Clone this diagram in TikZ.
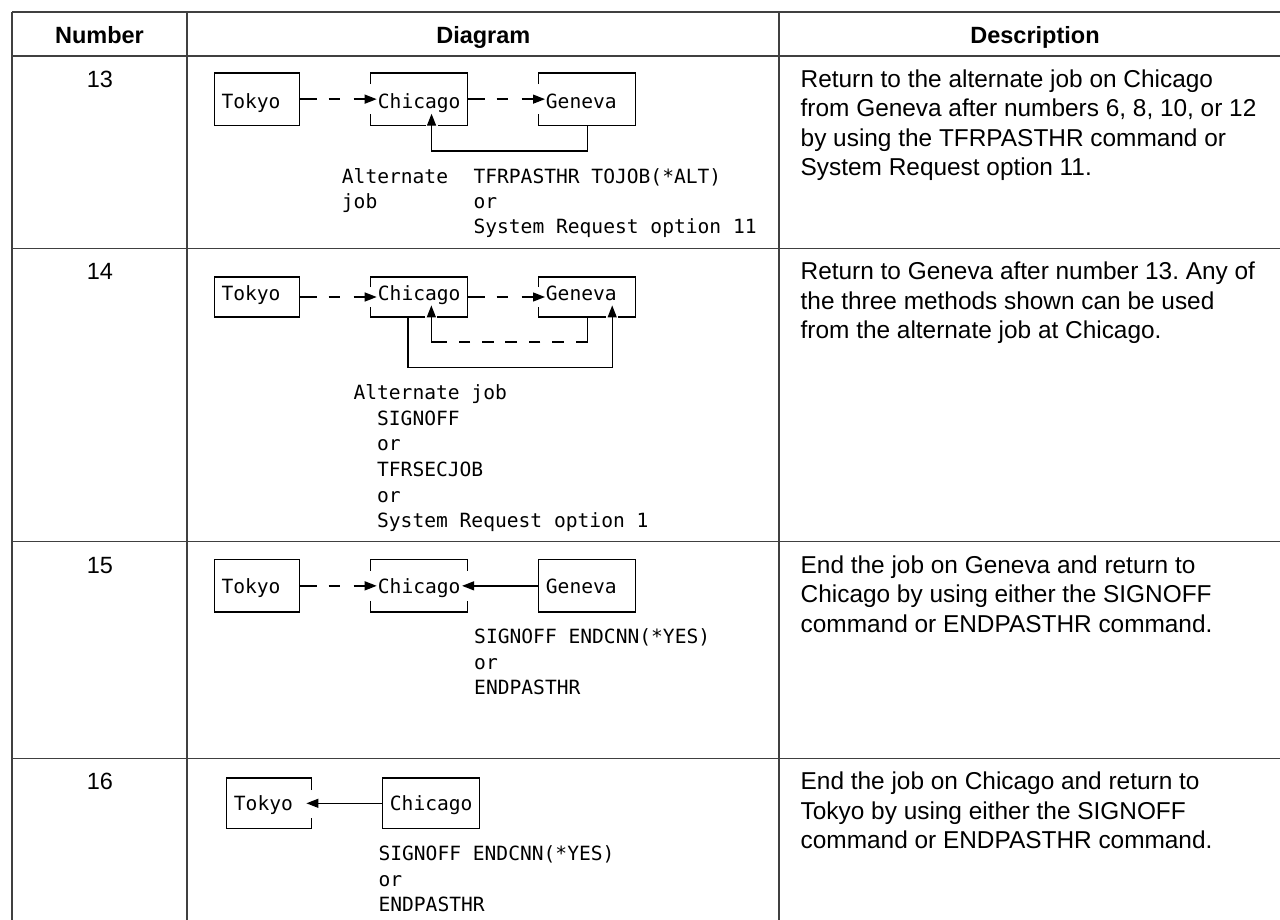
\documentclass[tikz,border=0pt]{standalone}
\usepackage{fontspec}
\setmainfont{Liberation Sans}
\newfontfamily\monof{DejaVu Sans Mono}
\usetikzlibrary{arrows.meta}
\frenchspacing
\newcommand\lns[2]{\vtop{\baselineskip=#1\lineskip=0pt\lineskiplimit=-100pt #2}}
\tikzset{
  mono/.style={font=\monof\fontsize{19.6pt}{25.5pt}\selectfont, inner sep=0pt, anchor=base west},
  desc/.style={font=\fontsize{24.4pt}{29.5pt}\selectfont\frenchspacing, inner sep=0pt, anchor=base west},
  num/.style={font=\fontsize{23.5pt}{28pt}\selectfont, inner sep=0pt, anchor=base},
  head/.style={font=\bfseries\fontsize{23.5pt}{28pt}\selectfont, inner sep=0pt, anchor=base},
  box/.style={font=\monof\fontsize{19.6pt}{24pt}\selectfont, inner xsep=7pt, inner ysep=0pt, anchor=base west},
  tallbox/.style={box, text height=35pt, text depth=16.7pt},
  lowbox/.style={box, text height=22.7pt, text depth=16.7pt},
  rule/.style={line width=1.4pt, black!75},
  bline/.style={line width=1.3pt, black},
  conn/.style={line width=1.3pt, black},
  tip/.style={-{Triangle[length=12pt,width=9pt]}},
  dashA/.style={conn, tip, dash pattern=on 17.7pt off 11.6pt on 11pt off 14pt on 60pt},
}
\begin{document}
\begin{tikzpicture}[x=1pt,y=-1pt]
\useasboundingbox (0,0) rectangle (1280,920);
% table rules
\draw[rule] (12,12) -- (1280,12);
\draw[rule] (12,56) -- (1280,56);
\draw[rule] (12,248.3) -- (1280,248.3);
\draw[rule] (12,541.7) -- (1280,541.7);
\draw[rule] (12,758.3) -- (1280,758.3);
\draw[rule] (12,12) -- (12,920);
\draw[rule] (187,12) -- (187,920);
\draw[rule] (779,12) -- (779,920);
% headers
\node[head] (h1) at (99.5,43.3) {Number};
\node[head] (h2) at (483.3,43.3) {Diagram};
\node[head] (h3) at (1035,43.3) {Description};
% numbers
\node[num] (n13) at (100,87.3) {13};
\node[num] (n14) at (100,279.6) {14};
\node[num] (n15) at (100,573) {15};
\node[num] (n16) at (100,789.6) {16};
% descriptions
\node[desc] (d13) at (800.5,87.5) {\lns{29.5pt}{\hbox{Return to the alternate job on Chicago}\hbox{from Geneva after numbers 6, 8, 10, or 12}\hbox{by using the TFRPASTHR command or}\hbox{System Request option 11.}}};
\node[desc] (d14) at (800.5,279.8) {\lns{29.5pt}{\hbox{Return to Geneva after number 13. Any of}\hbox{the three methods shown can be used}\hbox{from the alternate job at Chicago.}}};
\node[desc] (d15) at (800.5,573.2) {\lns{29.5pt}{\hbox{End the job on Geneva and return to}\hbox{Chicago by using either the SIGNOFF}\hbox{command or ENDPASTHR command.}}};
\node[desc] (d16) at (800.5,789.8) {\lns{29.5pt}{\hbox{End the job on Chicago and return to}\hbox{Tokyo by using either the SIGNOFF}\hbox{command or ENDPASTHR command.}}};

% ---------- row 13 ----------
\node[tallbox] (t13) at (214.3,108.3) {\makebox[70.7pt][l]{Tokyo}};
\node[tallbox] (c13) at (370.7,108.3) {\makebox[82.3pt][l]{Chicago}};
\node[tallbox] (g13) at (538.7,108.3) {\makebox[82.6pt][l]{Geneva}};
\draw[bline] (t13.north west) rectangle (t13.south east);
\draw[bline] ([yshift=-11pt]c13.north west) -- (c13.north west) -- (c13.north east) -- (c13.south east) -- ([xshift=18.5pt]c13.south);
\draw[bline] ([xshift=6.5pt]c13.south) -- (c13.south west) -- ([yshift=11pt]c13.south west);
\draw[bline] ([yshift=-11pt]g13.north west) -- (g13.north west) -- (g13.north east) -- (g13.south east) -- (g13.south west) -- ([yshift=11pt]g13.south west);
\draw[dashA] (t13.east) -- ([xshift=6pt]c13.west);
\draw[dashA] (c13.east) -- ([xshift=6.3pt]g13.west);
\draw[conn,tip] (g13.south) -- ++(0,25.7) -| ([xshift=12.5pt,yshift=11.5pt]c13.south);
\node[mono] (alt13) at (341.7,184) {\lns{25pt}{\hbox{Alternate}\hbox{job}}};
\node[mono] (cmd13) at (473.3,184) {\lns{25pt}{\hbox{TFRPASTHR TOJOB(*ALT)}\hbox{or}\hbox{System Request option 11}}};

% ---------- row 14 ----------
\node[lowbox] (t14) at (214.3,300) {\makebox[70.7pt][l]{Tokyo}};
\node[lowbox] (c14) at (370.7,300) {\makebox[82.3pt][l]{Chicago}};
\node[lowbox] (g14) at (538.7,300) {\makebox[82.6pt][l]{Geneva}};
\draw[bline] (t14.north west) rectangle (t14.south east);
\draw[bline] ([yshift=-10pt]c14.north west) -- (c14.north west) -- (c14.north east) -- (c14.south east) -- ([xshift=18.3pt]c14.south);
\draw[bline] ([xshift=6.3pt]c14.south) -- (c14.south west) -- ([yshift=10pt]c14.south west);
\draw[bline] ([yshift=-10pt]g14.north west) -- (g14.north west) -- (g14.north east) -- (g14.south east) -- ([xshift=31pt]g14.south);
\draw[bline] ([xshift=19pt]g14.south) -- (g14.south west) -- ([yshift=10pt]g14.south west);
\draw[dashA] (t14.east) -- ([xshift=6pt]c14.west);
\draw[dashA] (c14.east) -- ([xshift=6.3pt]g14.west);
\draw[conn,tip,dash pattern=on 36.7pt off 11.7pt on 11.7pt off 11.7pt on 11.7pt off 11.7pt on 11.7pt off 11.7pt on 11.7pt off 11.7pt on 11.7pt off 11.7pt on 300pt] (g14.south) -- ++(0,25) -| ([xshift=12.3pt,yshift=11.5pt]c14.south);
\draw[conn,tip] ([xshift=-11.2pt]c14.south) -- ++(0,50.6) -| ([xshift=25pt,yshift=11.5pt]g14.south);
\node[mono] (alt14) at (353.3,399.3) {\lns{25.7pt}{\hbox{Alternate job}\hbox{\ \ SIGNOFF}\hbox{\ \ or}\hbox{\ \ TFRSECJOB}\hbox{\ \ or}\hbox{\ \ System Request option 1}}};

% ---------- row 15 ----------
\node[box, text height=33.3pt, text depth=18.4pt] (t15) at (214.3,593.3) {\makebox[70.7pt][l]{Tokyo}};
\node[box, text height=33.3pt, text depth=18.4pt] (c15) at (370.7,593.3) {\makebox[82.3pt][l]{Chicago}};
\node[box, text height=33.3pt, text depth=18.4pt] (g15) at (538.7,593.3) {\makebox[82.6pt][l]{Geneva}};
\draw[bline] (t15.north west) rectangle (t15.south east);
\draw[bline] ([yshift=-11pt]c15.north west) -- (c15.north west) -- (c15.north east) -- ([yshift=-11pt]c15.north east);
\draw[bline] ([yshift=11pt]c15.south west) -- (c15.south west) -- (c15.south east) -- ([yshift=11pt]c15.south east);
\draw[bline] (g15.north west) rectangle (g15.south east);
\draw[dashA] (t15.east) -- ([xshift=6pt]c15.west);
\draw[conn,tip] (g15.west) -- ([xshift=-5.3pt]c15.east);
\node[mono] (cmd15) at (474,643.3) {\lns{25.8pt}{\hbox{SIGNOFF ENDCNN(*YES)}\hbox{or}\hbox{ENDPASTHR}}};

% ---------- row 16 ----------
\node[box, text height=31.7pt, text depth=18.3pt] (t16) at (226.7,810) {\makebox[70.3pt][l]{Tokyo}};
\node[box, text height=31.7pt, text depth=18.3pt] (c16) at (382.7,810) {\makebox[82.3pt][l]{Chicago}};
\draw[bline] ([yshift=-12pt]t16.north east) -- (t16.north east) -- (t16.north west) -- (t16.south west) -- (t16.south east) -- ([yshift=11pt]t16.south east);
\draw[bline] (c16.north west) rectangle (c16.south east);
\draw[conn,tip] (c16.west) -- ([xshift=-5pt]t16.east);
\node[mono] (cmd16) at (378.3,860.7) {\lns{25.5pt}{\hbox{SIGNOFF ENDCNN(*YES)}\hbox{or}\hbox{ENDPASTHR}}};
\end{tikzpicture}
\end{document}
